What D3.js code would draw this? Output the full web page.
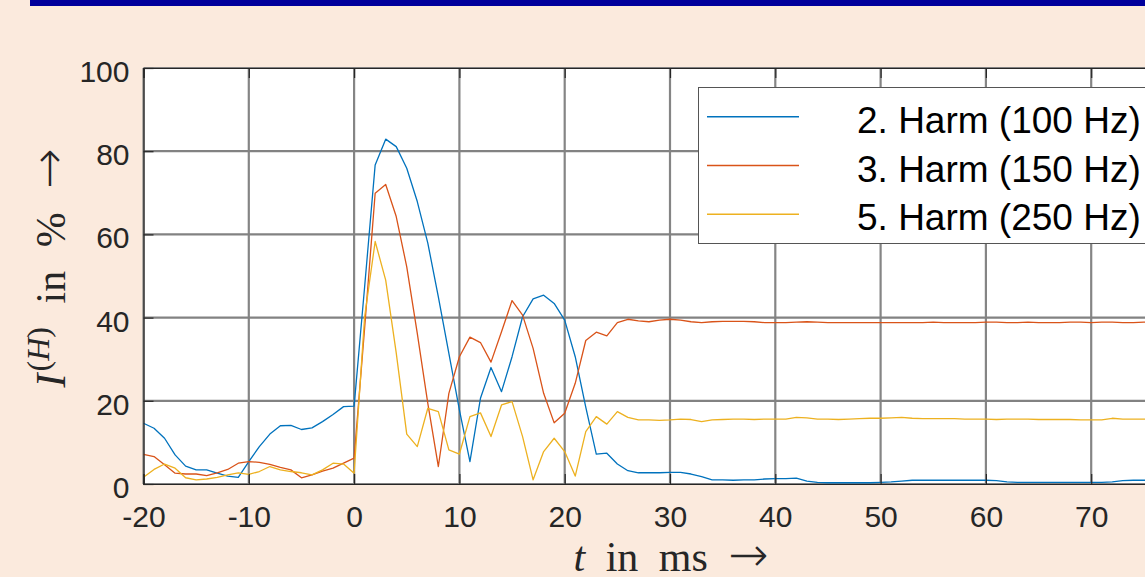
<!DOCTYPE html>
<html>
<head>
<meta charset="utf-8">
<script src="https://cdn.jsdelivr.net/npm/d3@7"></script>
<style>
  body { margin: 0; background: #FBEADD; overflow: hidden; }
  .tick text { font-family: "Liberation Sans", Arial, sans-serif; font-size: 30px; fill: #262626; }
</style>
</head>
<body>
<svg id="chart"></svg>
<script>
// data, 1 ms steps
var timeMs = [-20,-19,-18,-17,-16,-15,-14,-13,-12,-11,
  -10,-9,-8,-7,-6,-5,-4,-3,-2,-1,
  0,
  1,2,3,4,5,6,7,8,9,10,
  11,12,13,14,15,16,17,18,19,20,
  21,22,23,24,25,26,27,28,29,30,
  31,32,33,34,35,36,37,38,39,40,
  41,42,43,44,45,46,47,48,49,50,
  51,52,53,54,55,56,57,58,59,60,
  61,62,63,64,65,66,67,68,69,70,
  71,72,73,74,75,76,77,78,79,80];

var harm2 = [14.6,13.4,11.0,7.0,4.3,3.4,3.4,2.6,1.9,1.6,
  5.4,9.0,12.0,14.0,14.1,13.1,13.5,15.0,16.7,18.6,
  18.7,
  47.4,76.7,82.9,81.1,75.9,67.9,57.9,45.0,31.4,17.8,
  5.4,20.6,28.0,22.2,30.6,40.2,44.5,45.4,43.4,39.4,
  30.6,18.5,7.2,7.4,4.8,3.2,2.7,2.7,2.7,2.8,
  2.8,2.4,1.8,1.0,1.0,0.9,1.0,1.0,1.2,1.3,
  1.3,1.4,0.7,0.4,0.3,0.3,0.3,0.3,0.3,0.4,
  0.5,0.7,0.9,0.9,0.9,0.9,0.9,0.9,0.9,0.9,
  0.8,0.5,0.4,0.4,0.4,0.4,0.4,0.4,0.4,0.4,
  0.4,0.5,0.8,0.9,0.9,0.9,0.8,0.8,0.8,0.8];

var harm3 = [7.1,6.6,4.6,2.6,2.4,2.4,2.0,2.7,3.5,5.0,
  5.4,5.2,4.7,4.0,3.4,1.5,2.2,3.1,3.8,5.0,
  6.2,
  37.5,69.9,72.0,64.3,52.2,36.2,19.4,4.2,21.8,30.6,
  35.3,34.0,29.3,36.6,44.1,40.6,32.6,21.8,14.7,17.0,
  24.2,34.5,36.5,35.6,38.8,39.6,39.2,39.0,39.4,39.6,
  39.4,39.0,38.8,39.0,39.1,39.1,39.1,39.0,38.8,38.8,
  38.8,38.9,39.0,38.9,38.8,38.8,38.8,38.8,38.8,38.8,
  38.8,38.8,38.8,38.8,38.9,38.8,38.8,38.8,38.8,38.9,
  38.9,38.8,38.8,38.9,38.8,38.8,38.8,38.9,38.9,38.8,
  38.9,38.9,38.8,38.8,38.9,38.9,38.8,38.8,38.8,38.8];

var harm5 = [1.6,3.5,4.8,3.8,1.5,1.0,1.2,1.6,2.2,2.7,
  2.3,3.0,4.2,3.4,3.0,2.7,2.2,3.4,5.0,4.8,
  2.6,
  40.2,58.3,49.0,31.5,12.0,9.0,18.2,17.4,8.2,7.2,
  16.2,17.1,11.4,19.0,19.8,11.4,1.0,7.8,11.0,7.8,
  1.9,12.6,16.2,14.4,17.4,16.0,15.4,15.4,15.3,15.4,
  15.6,15.5,15.0,15.4,15.5,15.6,15.6,15.5,15.6,15.6,
  15.6,16.0,15.9,15.6,15.6,15.5,15.6,15.7,15.8,15.8,
  15.9,16.0,15.8,15.7,15.7,15.7,15.7,15.6,15.6,15.6,
  15.5,15.6,15.6,15.6,15.5,15.5,15.5,15.5,15.4,15.4,
  15.4,15.8,15.6,15.6,15.6,15.6,15.6,15.6,15.6,15.6];

var seriesNames = ["2. Harm (100 Hz)", "3. Harm (150 Hz)", "5. Harm (250 Hz)"];
var seriesColors = ["#0072BD", "#D95319", "#EDB120"];
var xTicks = [-20,-10,0,10,20,30,40,50,60,70];
var yTicks = [0,20,40,60,80,100];

var svgWidth = 1145;
var svgHeight = 577;

// axes box (right part runs off the page like in the original)
var plot = { left: 143.5, right: 1196.5, top: 68, bottom: 484 };

var svg = d3.select("#chart")
  .attr("width", svgWidth)
  .attr("height", svgHeight);

svg.append("rect")
  .attr("width", svgWidth)
  .attr("height", svgHeight)
  .attr("fill", "#FBEADD");

// navy bar on top
svg.append("rect")
  .attr("x", 30)
  .attr("y", 0)
  .attr("width", svgWidth - 30)
  .attr("height", 6)
  .attr("fill", "#00009C");

var xScale = d3.scaleLinear().domain([-20, 80]).range([plot.left, plot.right]);
var yScale = d3.scaleLinear().domain([0, 100]).range([plot.bottom, plot.top]);

svg.append("rect")
  .attr("x", plot.left)
  .attr("y", plot.top)
  .attr("width", plot.right - plot.left)
  .attr("height", plot.bottom - plot.top)
  .attr("fill", "#ffffff");

// grid
var grid = svg.append("g");
grid.selectAll(".vgrid")
  .data(xTicks)
  .enter()
  .append("line")
  .attr("x1", d => xScale(d))
  .attr("x2", d => xScale(d))
  .attr("y1", plot.top)
  .attr("y2", plot.bottom)
  .attr("stroke", "#858585")
  .attr("stroke-width", 2.2);
grid.selectAll(".hgrid")
  .data(yTicks)
  .enter()
  .append("line")
  .attr("x1", plot.left)
  .attr("x2", plot.right)
  .attr("y1", d => yScale(d))
  .attr("y2", d => yScale(d))
  .attr("stroke", "#828282")
  .attr("stroke-width", 2.2);

// lines
var allSeries = [harm2, harm3, harm5];
var line = d3.line()
  .x((d, i) => xScale(timeMs[i]))
  .y(d => yScale(d));

svg.append("g")
  .selectAll("path")
  .data(allSeries)
  .enter()
  .append("path")
  .attr("d", d => line(d))
  .attr("fill", "none")
  .attr("stroke", (d, i) => seriesColors[i])
  .attr("stroke-width", 1.3)
  .attr("stroke-linejoin", "round");

// axes
var bottomAxis = d3.axisBottom(xScale)
  .tickValues(xTicks)
  .tickSize(-10)
  .tickFormat(d => String(d));
var xAxis = svg.append("g")
  .attr("transform", `translate(0, ${plot.bottom})`)
  .call(bottomAxis);
xAxis.selectAll("text").attr("y", 43).attr("dy", null);

var topAxis = d3.axisTop(xScale)
  .tickValues(xTicks)
  .tickSize(-10)
  .tickFormat("");
svg.append("g")
  .attr("transform", `translate(0, ${plot.top})`)
  .call(topAxis);

var leftAxis = d3.axisLeft(yScale)
  .tickValues(yTicks)
  .tickSize(-10)
  .tickFormat(d => String(d));
var yAxis = svg.append("g")
  .attr("transform", `translate(${plot.left}, 0)`)
  .call(leftAxis);
yAxis.selectAll("text").attr("x", -14).attr("dy", 13.5);

svg.selectAll(".domain").attr("stroke", "#262626").attr("stroke-width", 1.2);
svg.selectAll(".tick line").attr("stroke", "#262626").attr("stroke-width", 1.2);

// axis labels (LaTeX look)
var serif = "'Liberation Serif', 'Times New Roman', serif";
var arrowFont = "'DejaVu Sans', sans-serif";

var yLabel = svg.append("text")
  .attr("transform", "translate(65, 268) rotate(-90)")
  .attr("text-anchor", "middle")
  .style("font-family", serif)
  .style("font-size", "42px")
  .style("word-spacing", "13px")
  .attr("fill", "#262626");
yLabel.append("tspan").style("font-style", "italic").text("I");
yLabel.append("tspan").attr("dx", 2).attr("dy", -16).style("font-size", "32px").text("(");
yLabel.append("tspan").style("font-size", "32px").style("font-style", "italic").text("H");
yLabel.append("tspan").style("font-size", "32px").text(")");
yLabel.append("tspan").attr("dy", 16).text(" in % ");
yLabel.append("tspan")
  .style("font-family", arrowFont)
  .style("font-weight", 200)
  .style("font-size", "48px")
  .text("\u2192");

var xLabel = svg.append("text")
  .attr("x", 671)
  .attr("y", 571)
  .attr("text-anchor", "middle")
  .style("font-family", serif)
  .style("font-size", "42px")
  .style("word-spacing", "10px")
  .attr("fill", "#262626");
xLabel.append("tspan").style("font-style", "italic").text("t");
xLabel.append("tspan").text(" in ms ");
xLabel.append("tspan")
  .style("font-family", arrowFont)
  .style("font-weight", 200)
  .style("font-size", "48px")
  .text("\u2192");

// legend
var legend = svg.append("g");
legend.append("rect")
  .attr("x", 698.5)
  .attr("y", 87.5)
  .attr("width", 600)
  .attr("height", 156)
  .attr("fill", "#ffffff")
  .attr("stroke", "#555555")
  .attr("stroke-width", 1);

var legendRows = legend.selectAll(".row")
  .data(seriesNames)
  .enter()
  .append("g")
  .attr("transform", (d, i) => `translate(0, ${116.7 + i * 48.8})`);
legendRows.append("line")
  .attr("x1", 707)
  .attr("x2", 799)
  .attr("stroke", (d, i) => seriesColors[i])
  .attr("stroke-width", 1.6);
legendRows.append("text")
  .attr("x", 857)
  .attr("y", 16)
  .style("font-family", "'Liberation Sans', Arial, sans-serif")
  .style("font-size", "37px")
  .attr("fill", "#000000")
  .text(d => d);
</script>
</body>
</html>
